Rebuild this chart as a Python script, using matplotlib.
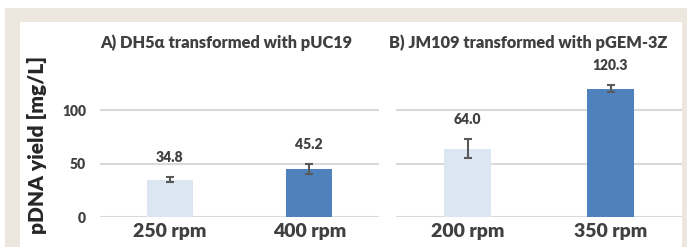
import matplotlib.pyplot as plt
from matplotlib.patches import Rectangle

# data
titels = ["A) DH5\u03b1 transformed with pUC19", "B) JM109 transformed with pGEM-3Z"]
labels_a = ["250 rpm", "400 rpm"]
waarden_a = [34.8, 45.2]
fout_a = [2.4, 4.7]
labels_b = ["200 rpm", "350 rpm"]
waarden_b = [64.0, 120.3]
fout_b = [8.7, 3.3]
yticks = [0, 50, 100]

# colors
licht = "#dce6f2"
donker = "#4f81bd"
grijs = "#d9d9d9"
tekst = "#404040"
beige = "#ede6df"

plt.rcParams['font.family'] = ['Lato', 'DejaVu Sans']

W, H = 691, 247
fig = plt.figure(figsize=(W / 100, H / 100), dpi=100)
fig.patches.append(Rectangle((5 / W, 0), 682 / W, 1 - 8 / H, transform=fig.transFigure,
                             facecolor=beige, edgecolor="none", zorder=-2))
fig.patches.append(Rectangle((20 / W, 0), 662 / W, 1 - 22 / H, transform=fig.transFigure,
                             facecolor="white", edgecolor="none", zorder=-1))

ax_a = fig.add_axes([100 / W, 30 / H, 279 / W, 149.4 / H])
ax_b = fig.add_axes([396 / W, 30 / H, 286 / W, 149.4 / H])

panelen = [(ax_a, labels_a, waarden_a, fout_a, titels[0], 226),
           (ax_b, labels_b, waarden_b, fout_b, titels[1], 528)]

for ax, labels, waarden, fout, titel, tx in panelen:
    ax.set_facecolor("none")
    x = range(len(labels))
    ax.bar(x, waarden, width=0.33, color=[licht, donker], zorder=3)
    ax.errorbar(x, waarden, yerr=fout, fmt="none", ecolor="#595959",
                elinewidth=1.5, capsize=3, capthick=1.5, zorder=4)
    for xi, w, f in zip(x, waarden, fout):
        ax.annotate(f"{w:.1f}", (xi, w + f), xytext=(0, 14), textcoords="offset points",
                    ha="center", va="center", fontsize=10, fontweight="heavy", color=tekst)
    ax.set_xlim(-0.5, len(labels) - 0.5)
    ax.set_ylim(0, 140)
    ax.set_yticks(yticks)
    for yt in yticks:
        ax.axhline(yt, color=grijs, lw=1.5, zorder=1)
    ax.set_xticks(list(x))
    ax.set_xticklabels(labels, fontsize=14, fontweight="heavy", color=tekst)
    ax.tick_params(axis="x", length=0, pad=4)
    for s in ax.spines.values():
        s.set_visible(False)
    fig.text(tx / W, 1 - 43 / H, titel, ha="center", va="center",
             fontsize=11.8, fontweight="heavy", color=tekst)

ax_a.set_yticklabels([str(t) for t in yticks], fontsize=10, fontweight="heavy", color=tekst)
ax_a.tick_params(axis="y", length=0, pad=10)
ax_b.tick_params(axis="y", length=0, labelleft=False)

fig.text(37 / W, 1 - 145 / H, "pDNA yield [mg/L]", rotation=90, ha="center", va="center",
         fontsize=15, fontweight="heavy", color="#262626")

fig.savefig("out.png", dpi=100)
